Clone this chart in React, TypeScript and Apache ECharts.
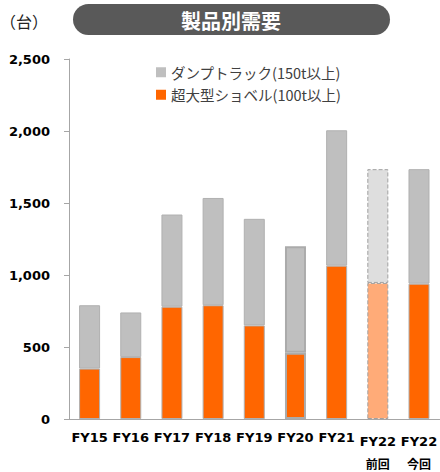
import React, { useEffect, useRef } from "react";
import * as echarts from "echarts";

const categories = ["FY15", "FY16", "FY17", "FY18", "FY19", "FY20", "FY21", "FY22前回", "FY22今回"];
const shovel = [350, 430, 780, 790, 650, 460, 1065, 945, 940];
const dump = [440, 310, 640, 745, 740, 740, 940, 790, 795];
const yTicks = [0, 500, 1000, 1500, 2000, 2500];
const seriesNames = ["ダンプトラック(150t以上)", "超大型ショベル(100t以上)"];

const ORANGE = "#FF6600";
const GRAY = "#BFBFBF";

export default function App() {
  const ref = useRef<HTMLDivElement>(null);
  useEffect(() => {
    document.body.style.margin = "0";
    const chart = echarts.init(ref.current!, undefined, { renderer: "svg" });
    const itemFor = (i: number, base: string, light: string) => {
      if (i === 7) {
        return { itemStyle: { color: light, borderColor: "#A0A0A0", borderWidth: 1, borderType: "dashed" } };
      }
      if (i === 5) {
        return { itemStyle: { color: base, borderColor: "#ABABAB", borderWidth: 2 } };
      }
      return { itemStyle: { color: base, borderColor: "#B0B0B0", borderWidth: 1 } };
    };
    const shovelData = shovel.map((v, i) => ({ ...itemFor(i, ORANGE, "#FFAB78"), value: v }));
    const dumpData = dump.map((v, i) => ({ ...itemFor(i, GRAY, "#DEDEDE"), value: v }));
    chart.setOption({
      animation: false,
      graphic: [
        {
          type: "rect",
          shape: { x: 73, y: 4, width: 317, height: 31, r: 15.5 },
          style: { fill: "#595959" },
        },
        {
          type: "text",
          x: 231,
          y: 20,
          style: {
            text: "製品別需要",
            fill: "#FFFFFF",
            font: "bold 20px 'Noto Sans CJK JP'",
            align: "center",
            verticalAlign: "middle",
          },
        },
        {
          type: "text",
          x: 0,
          y: 21,
          style: {
            text: "（台）",
            fill: "#222222",
            font: "16px 'Noto Sans CJK JP'",
            align: "left",
            verticalAlign: "middle",
          },
        },
      ],
      legend: {
        orient: "vertical",
        left: 151,
        top: 60,
        itemWidth: 10,
        itemHeight: 10,
        itemGap: 8,
        icon: "rect",
        data: [
          { name: seriesNames[0], itemStyle: { color: GRAY, borderWidth: 0 } },
          { name: seriesNames[1], itemStyle: { color: ORANGE, borderWidth: 0 } },
        ],
        textStyle: { fontSize: 14.5, color: "#404040", fontFamily: "'Noto Sans CJK JP'" },
      },
      grid: { left: 69, top: 59, width: 374, height: 360 },
      xAxis: {
        type: "category",
        data: categories,
        axisLine: { lineStyle: { color: "#A6A6A6" } },
        axisTick: { lineStyle: { color: "#A6A6A6" }, length: 5 },
        axisLabel: {
          interval: 0,
          margin: 11,
          formatter: (v: string) => {
            if (v.startsWith("FY22")) return `{b|FY22}\n{s|${v.slice(4)}}`;
            return `{a|${v}}`;
          },
          rich: {
            a: { fontSize: 13, fontWeight: "bold", color: "#000", fontFamily: "'DejaVu Sans'", lineHeight: 15 },
            b: { fontSize: 13, fontWeight: "bold", color: "#000", fontFamily: "'DejaVu Sans'", lineHeight: 23 },
            s: { fontSize: 12, fontWeight: "bold", color: "#000", fontFamily: "'Noto Sans CJK JP'", lineHeight: 21 },
          },
        },
      },
      yAxis: {
        type: "value",
        min: yTicks[0],
        max: yTicks[yTicks.length - 1],
        interval: 500,
        splitLine: { show: false },
        axisLine: { show: true, lineStyle: { color: "#A6A6A6" } },
        axisTick: { show: true, lineStyle: { color: "#A6A6A6" }, length: 5 },
        axisLabel: {
          margin: 19,
          fontSize: 13,
          fontWeight: "bold",
          color: "#000",
          fontFamily: "'DejaVu Sans'",
          formatter: (v: number) => v.toLocaleString("en-US"),
        },
      },
      series: [
        {
          name: seriesNames[1],
          type: "bar",
          stack: "total",
          barWidth: 21,
          data: shovelData,
        },
        {
          name: seriesNames[0],
          type: "bar",
          stack: "total",
          barWidth: 21,
          data: dumpData,
        },
      ],
    });
    return () => chart.dispose();
  }, []);
  return <div ref={ref} style={{ width: 440, height: 472 }} />;
}
